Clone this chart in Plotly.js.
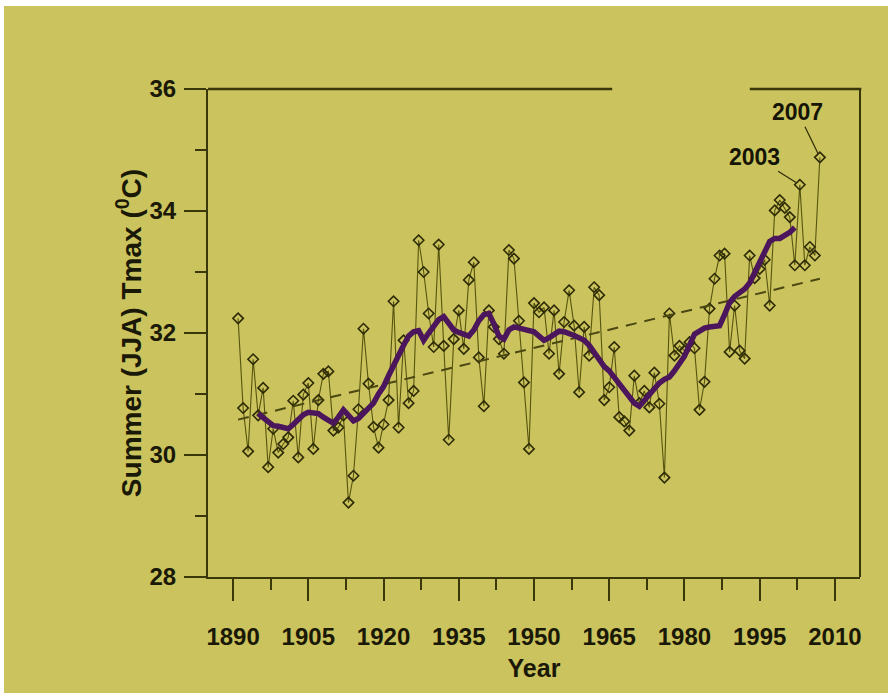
<!DOCTYPE html>
<html><head><meta charset="utf-8">
<script src="https://cdn.plot.ly/plotly-3.0.1.min.js"></script>
<style>
html,body{margin:0;padding:0;background:#ffffff;}
#chart{position:absolute;left:4px;top:6px;width:884px;height:687px;}
</style></head><body><div id="chart"></div><script>
// Annual summer (JJA) Tmax
const years = [1891,1892,1893,1894,1895,1896,1897,1898,1899,1900,
 1901,1902,1903,1904,1905,1906,1907,1908,1909,1910,
 1911,1912,1913,1914,1915,1916,1917,1918,1919,1920,
 1921,1922,1923,1924,1925,1926,1927,1928,1929,1930,
 1931,1932,1933,1934,1935,1936,1937,1938,1939,1940,
 1941,1942,1943,1944,1945,1946,1947,1948,1949,1950,
 1951,1952,1953,1954,1955,1956,1957,1958,1959,1960,
 1961,1962,1963,1964,1965,1966,1967,1968,1969,1970,
 1971,1972,1973,1974,1975,1976,1977,1978,1979,1980,
 1981,1982,1983,1984,1985,1986,1987,1988,1989,1990,
 1991,1992,1993,1994,1995,1996,1997,1998,1999,2000,
 2001,2002,2003,2004,2005,2006,2007];
const tmax = [32.24,30.77,30.06,31.57,30.65,31.10,29.80,30.43,30.04,30.18,
 30.29,30.89,29.96,30.99,31.18,30.10,30.90,31.33,31.37,30.40,
 30.45,30.65,29.22,29.66,30.75,32.07,31.17,30.46,30.12,30.50,
 30.90,32.52,30.45,31.88,30.85,31.05,33.52,33.00,32.32,31.77,
 33.45,31.79,30.25,31.90,32.37,31.74,32.87,33.16,31.60,30.80,
 32.37,32.10,31.90,31.66,33.36,33.22,32.20,31.19,30.10,32.49,
 32.34,32.42,31.66,32.37,31.33,32.18,32.70,32.12,31.03,32.10,
 31.63,32.75,32.62,30.90,31.11,31.77,30.62,30.55,30.40,31.30,
 30.85,31.05,30.78,31.35,30.84,29.63,32.32,31.63,31.79,31.71,
 31.85,31.75,30.74,31.20,32.40,32.89,33.27,33.30,31.69,32.45,
 31.71,31.58,33.27,32.90,33.05,33.20,32.45,34.01,34.18,34.05,
 33.90,33.11,34.43,33.11,33.41,33.27,34.88];

// Smoothed curve (purple)
const smoothYears = [1895,1896,1897,1898,1899,1900,1901,1902,1903,1904,
 1905,1906,1907,1908,1909,1910,1911,1912,1913,1914,
 1915,1916,1917,1918,1919,1920,1921,1922,1923,1924,
 1925,1926,1927,1928,1929,1930,1931,1932,1933,1934,
 1935,1936,1937,1938,1939,1940,1941,1942,1943,1944,
 1945,1946,1947,1948,1949,1950,1951,1952,1953,1954,
 1955,1956,1957,1958,1959,1960,1961,1962,1963,1964,
 1965,1966,1967,1968,1969,1970,1971,1972,1973,1974,
 1975,1976,1977,1978,1979,1980,1981,1982,1983,1984,
 1985,1986,1987,1988,1989,1990,1991,1992,1993,1994,
 1995,1996,1997,1998,1999,2000,2001,2002];
const smoothTmax = [30.68,30.62,30.55,30.48,30.47,30.44,30.43,30.50,30.58,30.66,
 30.70,30.69,30.68,30.62,30.56,30.52,30.62,30.74,30.65,30.56,
 30.60,30.68,30.75,30.85,31.00,31.12,31.30,31.48,31.62,31.80,
 31.95,32.02,32.04,31.88,32.00,32.12,32.22,32.27,32.15,32.05,
 32.01,31.98,31.95,32.05,32.20,32.30,32.32,32.15,31.95,31.90,
 32.05,32.10,32.08,32.06,32.04,32.02,31.95,31.88,31.92,31.98,
 32.03,32.02,32.00,31.96,31.92,31.88,31.80,31.68,31.55,31.45,
 31.38,31.28,31.18,31.05,30.95,30.85,30.80,30.90,30.98,31.08,
 31.18,31.24,31.28,31.38,31.50,31.62,31.80,31.98,32.03,32.08,
 32.10,32.10,32.12,32.30,32.50,32.60,32.65,32.72,32.82,32.98,
 33.15,33.30,33.50,33.55,33.55,33.60,33.65,33.73];

// Linear trend (dashed)
const trendYears = [1891, 2007];
const trendTmax = [30.58, 32.89];

const labelYears = [2003, 2007];
const labelOffsets = [[-45, -28], [-22, -45]];

const ink = '#2e2b06';
const axisColor = '#3a370a';
const fontFam = '"Liberation Sans", Arial, Helvetica, sans-serif';

const traces = [
  {x: years, y: tmax, type: 'scatter', mode: 'lines+markers',
   line: {color: '#57540f', width: 1.1},
   marker: {symbol: 'diamond-open', size: 8, color: ink, line: {color: ink, width: 1.6}},
   hoverinfo: 'x+y'},
  {x: trendYears, y: trendTmax, type: 'scatter', mode: 'lines',
   line: {color: '#4a4712', width: 2, dash: '11px,8px'}},
  {x: smoothYears, y: smoothTmax, type: 'scatter', mode: 'lines',
   line: {color: '#4b165c', width: 5.5}}
];

const annotations = labelYears.map((yr, i) => ({
  x: yr, y: tmax[years.indexOf(yr)], xref: 'x', yref: 'y',
  text: String(yr), showarrow: true, arrowhead: 0, arrowwidth: 1.2,
  arrowcolor: ink, standoff: 4, ax: labelOffsets[i][0], ay: labelOffsets[i][1],
  font: {family: fontFam, size: 23, color: '#151405', weight: 'bold'}
}));

const tickFont = {family: fontFam, size: 24, color: '#1a1806', weight: 'bold'};

const layout = {
  width: 884, height: 687,
  paper_bgcolor: '#cbc35d', plot_bgcolor: '#cbc35d',
  margin: {l: 204, r: 28, t: 83, b: 116},
  showlegend: false,
  xaxis: {
    range: [1885, 2015], tickmode: 'linear', tick0: 1890, dtick: 15,
    ticks: 'outside', ticklen: 22, tickwidth: 2, tickcolor: axisColor,
    showline: true, linecolor: axisColor, linewidth: 2,
    showgrid: false, zeroline: false, automargin: false,
    tickfont: tickFont, ticklabelstandoff: 15,
    minor: {dtick: 7.5, tick0: 1890, ticks: 'outside', ticklen: 11, tickwidth: 2, tickcolor: axisColor, showgrid: false},
    title: {text: 'Year', standoff: 11, font: {family: fontFam, size: 25, color: '#1a1806', weight: 'bold'}}
  },
  yaxis: {
    range: [28, 36], tickmode: 'linear', tick0: 28, dtick: 2,
    ticks: 'outside', ticklen: 22, tickwidth: 2, tickcolor: axisColor,
    showline: true, linecolor: axisColor, linewidth: 2,
    showgrid: false, zeroline: false, automargin: false,
    tickfont: tickFont, ticklabelstandoff: 3,
    minor: {dtick: 1, tick0: 28, ticks: 'outside', ticklen: 11, tickwidth: 2, tickcolor: axisColor, showgrid: false},
    title: {text: 'Summer (JJA) Tmax (<sup>0</sup>C)', standoff: 0, font: {family: fontFam, size: 28, color: '#1a1806', weight: 'bold'}}
  },
  shapes: [
    {type: 'line', xref: 'paper', yref: 'paper', x0: 0, x1: 0.62, y0: 1, y1: 1, line: {color: axisColor, width: 2.5}},
    {type: 'line', xref: 'paper', yref: 'paper', x0: 0.831, x1: 1.002, y0: 1, y1: 1, line: {color: axisColor, width: 2.5}},
    {type: 'line', xref: 'paper', yref: 'paper', x0: 1, x1: 1, y0: 0, y1: 1, line: {color: axisColor, width: 2}}
  ],
  annotations: annotations
};

Plotly.newPlot('chart', traces, layout, {displayModeBar: false, staticPlot: true});
</script></body></html>
